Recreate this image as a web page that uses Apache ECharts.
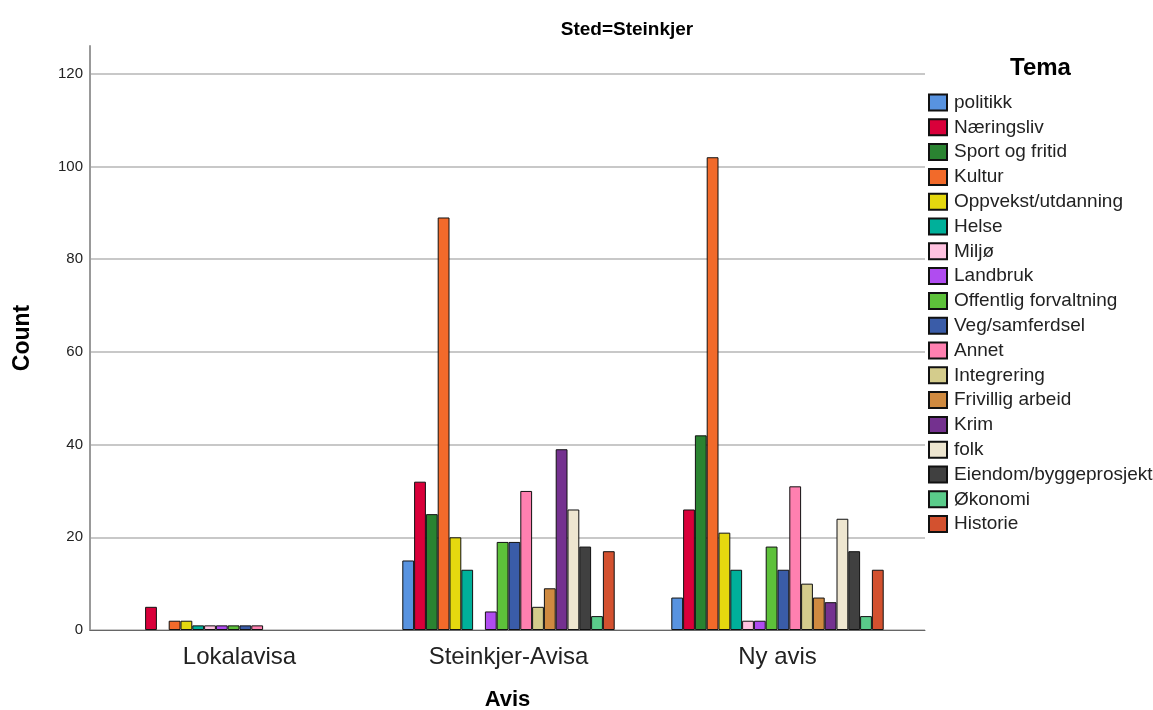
<!DOCTYPE html>
<html><head><meta charset="utf-8">
<script src="https://cdn.jsdelivr.net/npm/echarts@6/dist/echarts.min.js"></script>
<style>html,body{margin:0;padding:0;background:#fff}#c{width:1153px;height:710px}</style>
</head><body><div id="c"></div>
<script>
const categories = ['Lokalavisa', 'Steinkjer-Avisa', 'Ny avis'];
const temaNames = ['politikk','Næringsliv','Sport og fritid','Kultur','Oppvekst/utdanning','Helse','Miljø','Landbruk','Offentlig forvaltning','Veg/samferdsel','Annet','Integrering','Frivillig arbeid','Krim','folk','Eiendom/byggeprosjekt','Økonomi','Historie'];
const temaColors = ['#5893E0','#D9003A','#2A8331','#F26A2A','#E5D80F','#00B09A','#FFC2E0','#B04CF0','#5DC13A','#3A5CA8','#FF80B0','#D4CC8C','#CF8A40','#74318F','#EEE6D0','#404040','#5ACC8A','#D3512F'];
const lokalavisa = [0,5,0,2,2,1,1,1,1,1,1,0,0,0,0,0,0,0];
const steinkjerAvisa = [15,32,25,89,20,13,0,4,19,19,30,5,9,39,26,18,3,17];
const nyAvis = [7,26,42,102,21,13,2,2,18,13,31,10,7,6,24,17,3,13];
const yTicks = [0,20,40,60,80,100,120];

const font = 'Liberation Sans, Arial, sans-serif';
const yMax = 126;
const series = temaNames.map((name, i) => ({
  name, type: 'bar', xAxisIndex: 1, yAxisIndex: 1,
  barWidth: 11.8, barGap: '0%',
  itemStyle: { color: temaColors[i], borderColor: '#111', borderWidth: 1 },
  data: [lokalavisa[i], steinkjerAvisa[i], nyAvis[i]].map(v => v === 0 ? null : v)
}));

const chart = echarts.init(document.getElementById('c'));
chart.setOption({
  animation: false,
  backgroundColor: '#fff',
  title: { text: 'Sted=Steinkjer', left: 622, top: 15, textAlign: 'center',
    textStyle: { fontFamily: font, fontSize: 19, fontWeight: 'bold', color: '#000' } },
  legend: {
    orient: 'vertical', left: 928, top: 93, itemWidth: 18, itemHeight: 16, itemGap: 5.8, padding: 0,
    icon: 'rect', data: temaNames,
    textStyle: { fontFamily: font, fontSize: 19, color: '#222', padding: [0,0,0,2] }
  },
  graphic: [{ type: 'text', left: 1010, top: 56,
    style: { text: 'Tema', font: 'bold 24px ' + font, fill: '#000' } }],
  grid: [
    { left: 90, right: 228, top: 46, bottom: 80, outerBoundsMode: 'none' },
    { left: 105, right: 241, top: 46, bottom: 80, outerBoundsMode: 'none' }
  ],
  xAxis: [
    { gridIndex: 0, type: 'category', data: categories, axisLine: { lineStyle: { color: '#666', width: 1 } },
      axisTick: { show: false }, axisLabel: { show: false },
      name: 'Avis', nameLocation: 'middle', nameGap: 59,
      nameTextStyle: { fontFamily: font, fontSize: 22, fontWeight: 'bold', color: '#000' } },
    { gridIndex: 1, type: 'category', data: categories, axisLine: { show: false }, axisTick: { show: false },
      axisLabel: { fontFamily: font, fontSize: 24, color: '#222', margin: 15 } }
  ],
  yAxis: [
    { gridIndex: 0, type: 'value', min: 0, max: yMax, interval: 20,
      axisLine: { show: true, lineStyle: { color: '#999', width: 2 } }, axisTick: { show: false },
      axisLabel: { fontFamily: font, fontSize: 15, color: '#222', margin: 7, showMaxLabel: false,
        formatter: v => yTicks.includes(v) ? String(v) : '' },
      splitLine: { show: true, showMaxLine: false, lineStyle: { color: '#c8c8c8', width: 2 } },
      name: 'Count', nameLocation: 'middle', nameGap: 56, nameRotate: 90,
      nameTextStyle: { fontFamily: font, fontSize: 23, fontWeight: 'bold', color: '#000' } },
    { gridIndex: 1, type: 'value', min: 0, max: yMax, show: false, splitLine: { show: false } }
  ],
  series
});
</script></body></html>
